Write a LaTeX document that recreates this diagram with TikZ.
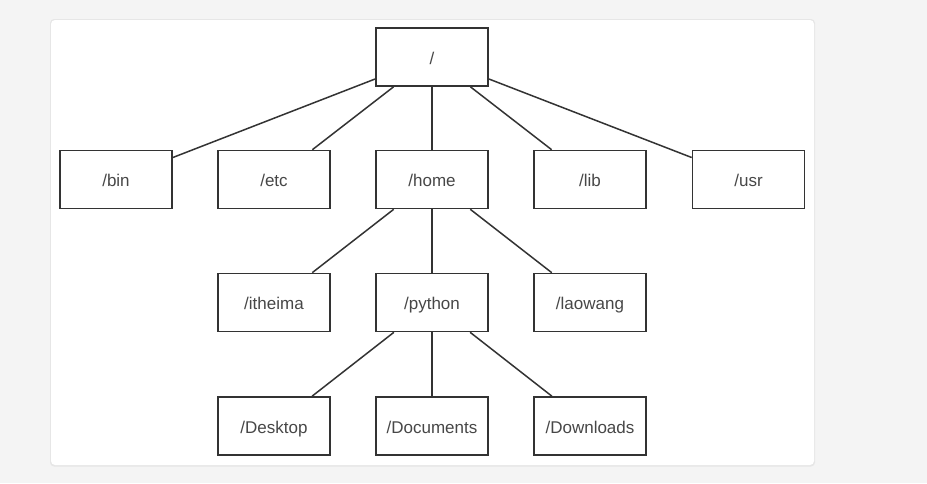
\documentclass[tikz,border=0pt]{standalone}
\usepackage{fontspec}
\setmainfont{Liberation Sans}
\definecolor{bgc}{HTML}{F4F4F4}
\definecolor{cardedge}{HTML}{E6E6E6}
\definecolor{ink}{HTML}{333333}
\begin{document}
\begin{tikzpicture}[x=1pt,y=-1pt,
  dirbox/.style={draw=ink,line width=1.6pt,fill=white,minimum width=112pt,minimum height=58pt,inner sep=0pt,text height=14.5pt,text depth=0pt,font=\fontsize{17}{19}\selectfont,text=ink!90},
  link/.style={draw=ink,line width=1.5pt}]
\useasboundingbox (0,0) rectangle (927,483);
\fill[bgc] (0,0) rectangle (927,483);
\fill[cardedge,rounded corners=4pt] (50,19) rectangle (815,466.5);
\fill[white,rounded corners=4pt] (51,20) rectangle (814,465);
% nodes
\node[dirbox] (root) at (432,57) {/};
\node[dirbox] (bin) at (116,179.5) {/bin};
\node[dirbox] (etc) at (274,179.5) {/etc};
\node[dirbox] (home) at (432,179.5) {/home};
\node[dirbox] (lib) at (590,179.5) {/lib};
\node[dirbox] (usr) at (748.5,179.5) {/usr};
\node[dirbox] (itheima) at (274,302.5) {/itheima};
\node[dirbox] (python) at (432,302.5) {/python};
\node[dirbox] (laowang) at (590,302.5) {/laowang};
\node[dirbox] (desktop) at (274,426) {/Desktop};
\node[dirbox] (documents) at (432,426) {/Documents};
\node[dirbox] (downloads) at (590,426) {/Downloads};
% connectors
\foreach \c in {bin,etc,home,lib,usr} \draw[link] (root) -- (\c);
\foreach \c in {itheima,python,laowang} \draw[link] (home) -- (\c);
\foreach \c in {desktop,documents,downloads} \draw[link] (python) -- (\c);
\end{tikzpicture}
\end{document}
